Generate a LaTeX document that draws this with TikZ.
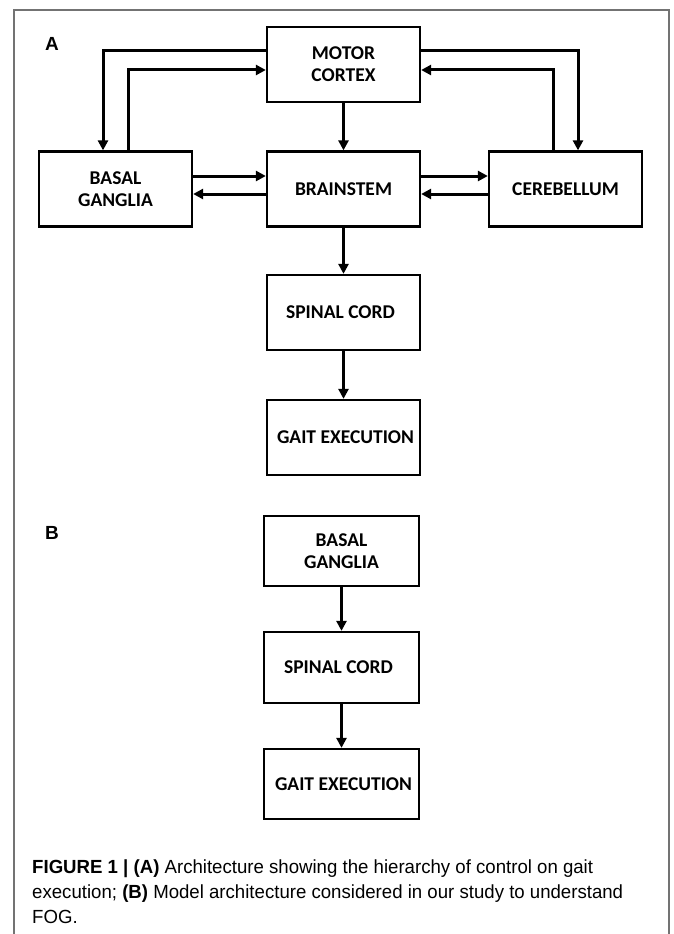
\documentclass[tikz,border=0pt]{standalone}
\usepackage{fontspec}
\setmainfont{Carlito}
\newfontfamily\capfont[FakeStretch=0.98]{Liberation Sans}
\newfontfamily\panelfont{Liberation Sans}
\usetikzlibrary{arrows.meta}

\begin{document}
\begin{tikzpicture}[x=1pt,y=-1pt,
  box/.style={draw, line width=2.3pt, inner sep=0pt, minimum width=153pt,
    minimum height=75pt, align=center,
    font=\fontsize{19.5}{22}\selectfont\bfseries},
  arr/.style={line width=3pt, -{Triangle[length=10pt,width=10pt]}},
  panel/.style={font=\panelfont\fontsize{19}{19}\selectfont\bfseries},
  frame/.style={draw=black!55, line width=1.4pt}]

\useasboundingbox (0,0) rectangle (673,934);

% outer frame, open at the bottom
\draw[frame] (14,934) -- (14,10) -- (669,10) -- (669,934);

% panel A
\node[panel] (la) at (52,44) {A};
\node[box] (motor)  at (343.5,64.5) {MOTOR\\CORTEX};
\node[box] (basal)  at (115.5,189) {BASAL\\GANGLIA};
\node[box] (brain)  at (343.5,189) {BRAINSTEM};
\node[box] (cereb)  at (565.5,189) {CEREBELLUM};
\node[box] (spinal) at (343.5,312.5) {\hspace*{-6pt}SPINAL CORD};
\node[box] (gait)   at (343.5,437.5) {\hspace*{4pt}GAIT EXECUTION};

\draw[arr] ([yshift=13.5pt]motor.west) -| ([xshift=-12.5pt]basal.north);
\draw[arr] ([xshift=12.5pt]basal.north) |- ([yshift=-5.5pt]motor.west);
\draw[arr] ([yshift=13.5pt]motor.east) -| ([xshift=12.5pt]cereb.north);
\draw[arr] ([xshift=-12.5pt]cereb.north) |- ([yshift=-5.5pt]motor.east);
\draw[arr] (motor) -- (brain);
\draw[arr] ([yshift=13pt]basal.east) -- ([yshift=13pt]brain.west);
\draw[arr] ([yshift=-5pt]brain.west) -- ([yshift=-5pt]basal.east);
\draw[arr] ([yshift=13pt]brain.east) -- ([yshift=13pt]cereb.west);
\draw[arr] ([yshift=-5pt]cereb.west) -- ([yshift=-5pt]brain.east);
\draw[arr] (brain) -- (spinal);
\draw[arr] (spinal) -- (gait);

% panel B
\node[panel] (lb) at (52,533) {B};
\node[box, minimum width=155pt, minimum height=70pt] (bbasal)  at (341.5,551) {BASAL\\GANGLIA};
\node[box, minimum width=155pt, minimum height=71pt] (bspinal) at (341.5,667.5) {\hspace*{-6pt}SPINAL CORD};
\node[box, minimum width=155pt, minimum height=70pt] (bgait)   at (341.5,784) {\hspace*{4pt}GAIT EXECUTION};
\draw[arr] (bbasal) -- (bspinal);
\draw[arr] (bspinal) -- (bgait);

% caption
\node[anchor=north west, align=left, inner sep=0pt,
  font=\capfont\fontsize{19}{25}\selectfont] (cap) at (32,860)
  {\textbf{FIGURE 1 | (A)} Architecture showing the hierarchy of control on gait\\
   execution; \textbf{(B)} Model architecture considered in our study to understand\\
   FOG.};
\end{tikzpicture}
\end{document}
